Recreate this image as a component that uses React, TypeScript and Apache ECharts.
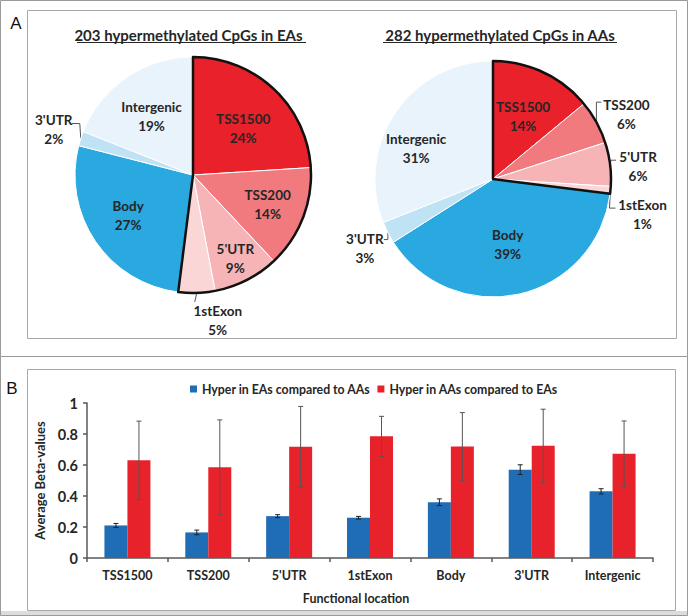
import React, { useEffect, useRef } from "react";
import * as echarts from "echarts";

// ---------- Data ----------
const sliceNames = ["TSS1500", "TSS200", "5'UTR", "1stExon", "Body", "3'UTR", "Intergenic"];
const eaPercents = [24, 14, 9, 5, 27, 2, 19]; // 203 hypermethylated CpGs in EAs
const aaPercents = [14, 6, 6, 1, 39, 3, 31]; // 282 hypermethylated CpGs in AAs
const promoterGroupSize = 4; // first four slices are outlined

const categories = ["TSS1500", "TSS200", "5'UTR", "1stExon", "Body", "3'UTR", "Intergenic"];
const eaMeans = [0.21, 0.165, 0.27, 0.26, 0.36, 0.57, 0.43];
const eaErr = [0.013, 0.015, 0.0095, 0.0085, 0.0215, 0.0315, 0.017];
const aaMeans = [0.63, 0.585, 0.718, 0.785, 0.72, 0.724, 0.673];
const aaErr = [0.253, 0.306, 0.26, 0.129, 0.218, 0.236, 0.211];

const seriesNames = ["Hyper in EAs compared to AAs", "Hyper in AAs compared to EAs"];

// ---------- Styles ----------
const FONT = "Lato, 'Noto Sans', sans-serif";
const TXT = "#262626";
const sliceColors = ["#E8212A", "#F07A7D", "#F6B4B7", "#FAD6D7", "#2AA8E0", "#BFE3F4", "#E8F3FB"];
const BLUE = "#1F6DB5";
const RED = "#E8222B";

const pie1 = { cx: 193, cy: 175, r: 118 };
const pie2 = { cx: 493, cy: 179, r: 118 };

// inner label placement: radial fraction + angular nudge (deg)
const pie1Inner: Record<number, { f: number; rot?: number }> = {
  0: { f: 0.58, rot: 4 },
  1: { f: 0.68 },
  2: { f: 0.79 },
  4: { f: 0.65, rot: 2 },
  6: { f: 0.61, rot: -1 },
};
const pie1Outer: Record<number, { line: number[][]; label: number[] }> = {
  3: { line: [[0, 0], [-1, 5], [-2, 9]], label: [23, 18.5] },
  5: { line: [[0, 0], [-1, -15], [-9, -15]], label: [-18, 5.5] },
};
const pie2Inner: Record<number, { f: number; rot?: number }> = {
  0: { f: 0.585, rot: 0.6 },
  4: { f: 0.57 },
  6: { f: 0.7, rot: -12.6 },
};
const pie2Outer: Record<number, { line: number[][]; label: number[] }> = {
  1: { line: [[0, 0], [0, -20], [5, -20]], label: [25, 12] },
  2: { line: [[0, 0], [1, -4], [6, -4]], label: [22, 6.5] },
  3: { line: [[0, 0], [-1, 18], [5, 18]], label: [27, 6.5] },
  5: { line: [[0, 0], [0, 7], [-4, 7]], label: [-19, 8.5] },
};

function makeLabelLayout(values: number[], geo: { cx: number; cy: number; r: number }, inner: any, outer: any) {
  const total = values.reduce((a, b) => a + b, 0);
  const mids: number[] = [];
  let acc = 0;
  values.forEach((v) => {
    mids.push(((acc + v / 2) / total) * 360);
    acc += v;
  });
  return (params: any) => {
    const i = params.dataIndex;
    const th = (mids[i] * Math.PI) / 180;
    if (outer[i]) {
      const o = outer[i];
      const ex = geo.cx + geo.r * Math.sin(th);
      const ey = geo.cy - geo.r * Math.cos(th);
      const pts = o.line.map((p: number[]) => [ex + p[0], ey + p[1]]);
      const last = pts[pts.length - 1];
      return {
        x: last[0] + o.label[0],
        y: last[1] + o.label[1],
        align: "center",
        verticalAlign: "middle",
        labelLinePoints: pts,
      };
    }
    const f = inner[i] || { f: 0.6 };
    const t2 = th + ((f.rot || 0) * Math.PI) / 180;
    return {
      x: geo.cx + f.f * geo.r * Math.sin(t2),
      y: geo.cy - f.f * geo.r * Math.cos(t2),
      align: "center",
      verticalAlign: "middle",
    };
  };
}

function pieSeries(values: number[], geo: { cx: number; cy: number; r: number }, inner: any, outer: any) {
  return {
    type: "pie",
    center: [geo.cx, geo.cy],
    radius: geo.r,
    startAngle: 90,
    clockwise: true,
    avoidLabelOverlap: false,
    silent: true,
    itemStyle: { borderColor: "#ffffff", borderWidth: 1 },
    label: {
      show: true,
      position: "inside",
      formatter: (p: any) => `${p.name}\n${p.value}%`,
      fontFamily: FONT,
      fontWeight: "bold",
      fontSize: 13.5,
      lineHeight: 19,
      color: TXT,
      align: "center",
    },
    labelLine: { show: false },
    labelLayout: makeLabelLayout(values, geo, inner, outer),
    data: values.map((v, i) => {
      const item: any = { name: sliceNames[i], value: v, itemStyle: { color: sliceColors[i] } };
      if (outer[i]) {
        item.label = { position: "outside" };
        item.labelLine = { show: true, length: 5, length2: 5, lineStyle: { color: "#555", width: 1 } };
      }
      return item;
    }),
  };
}

function outlineSeries(values: number[], geo: { cx: number; cy: number; r: number }) {
  const grp = values.slice(0, promoterGroupSize).reduce((a, b) => a + b, 0);
  const rest = values.slice(promoterGroupSize).reduce((a, b) => a + b, 0);
  return {
    type: "pie",
    center: [geo.cx, geo.cy],
    radius: geo.r,
    startAngle: 90,
    clockwise: true,
    silent: true,
    z: 5,
    label: { show: false },
    labelLine: { show: false },
    data: [
      { value: grp, itemStyle: { color: "rgba(0,0,0,0)", borderColor: "#111", borderWidth: 2.5 } },
      { value: rest, itemStyle: { color: "rgba(0,0,0,0)", borderWidth: 0 } },
    ],
  };
}

function errorSeries(means: number[], errs: number[], offset: number, color: string, cap: number) {
  return {
    type: "custom",
    xAxisIndex: 0,
    yAxisIndex: 0,
    z: 10,
    silent: true,
    data: means.map((m, i) => [i, m - errs[i], m + errs[i]]),
    renderItem: (_params: any, api: any) => {
      const lo = api.coord([api.value(0), api.value(1)]);
      const hi = api.coord([api.value(0), api.value(2)]);
      const x = lo[0] + offset;
      const style = { stroke: color, lineWidth: 1 };
      return {
        type: "group",
        children: [
          { type: "line", shape: { x1: x, y1: hi[1], x2: x, y2: lo[1] }, style },
          { type: "line", shape: { x1: x - cap, y1: hi[1], x2: x + cap, y2: hi[1] }, style },
          { type: "line", shape: { x1: x - cap, y1: lo[1], x2: x + cap, y2: lo[1] }, style },
        ],
      };
    },
  };
}

export default function App() {
  const ref = useRef<HTMLDivElement>(null);
  useEffect(() => {
    if (!ref.current) return;
    const chart = echarts.init(ref.current, undefined, { renderer: "svg" });
    const option: any = {
      animation: false,
      backgroundColor: "#ffffff",
      graphic: [
        // panel frames
        { type: "rect", shape: { x: 0.5, y: 0.5, width: 687, height: 356 }, style: { fill: "none", stroke: "#9a9a9a", lineWidth: 1 }, z: -10 },
        { type: "rect", shape: { x: 0.5, y: 356.5, width: 687, height: 259 }, style: { fill: "none", stroke: "#9a9a9a", lineWidth: 1 }, z: -10 },
        { type: "rect", shape: { x: 27.5, y: 10.5, width: 649, height: 328 }, style: { fill: "none", stroke: "#a8a8a8", lineWidth: 1 }, z: -10 },
        { type: "rect", shape: { x: 27.5, y: 369.5, width: 648, height: 241 }, style: { fill: "none", stroke: "#a8a8a8", lineWidth: 1 }, z: -10 },
        { type: "rect", shape: { x: 0, y: 611, width: 688, height: 5 }, style: { fill: "#dcdcdc" }, z: -11 },
        // panel letters
        { type: "text", x: 16, y: 23, style: { text: "A", font: "17px 'Liberation Sans', Arial, sans-serif", fill: "#111", align: "center", verticalAlign: "middle", textAlign: "center", textVerticalAlign: "middle" } },
        { type: "text", x: 12, y: 388, style: { text: "B", font: "17px 'Liberation Sans', Arial, sans-serif", fill: "#111", align: "center", verticalAlign: "middle", textAlign: "center", textVerticalAlign: "middle" } },
        // pie titles
        { type: "text", x: 188.5, y: 35, style: { text: "203 hypermethylated CpGs in EAs", font: `bold 15px ${FONT}`, fill: TXT, align: "center", verticalAlign: "middle", textAlign: "center", textVerticalAlign: "middle" } },
        { type: "line", shape: { x1: 77, y1: 42.5, x2: 306, y2: 42.5 }, style: { stroke: TXT, lineWidth: 1.2 } },
        { type: "text", x: 500, y: 35, style: { text: "282 hypermethylated CpGs in AAs", font: `bold 15px ${FONT}`, fill: TXT, align: "center", verticalAlign: "middle", textAlign: "center", textVerticalAlign: "middle" } },
        { type: "line", shape: { x1: 383, y1: 42.5, x2: 617, y2: 42.5 }, style: { stroke: TXT, lineWidth: 1.2 } },
      ],
      legend: {
        data: seriesNames,
        left: 190,
        top: 383,
        padding: 0,
        icon: "rect",
        itemWidth: 7,
        itemHeight: 7,
        itemGap: 7,
        textStyle: { fontFamily: FONT, fontWeight: "bold", fontSize: 12.3, color: TXT },
      },
      grid: { left: 87, right: 35, top: 403, bottom: 58 },
      xAxis: {
        type: "category",
        data: categories,
        name: "Functional location",
        nameLocation: "middle",
        nameGap: 34,
        nameTextStyle: { fontFamily: FONT, fontWeight: "bold", fontSize: 12.5, color: TXT, padding: [0, 28, 0, 0] },
        axisLine: { lineStyle: { color: "#595959", width: 1.5 } },
        axisTick: { show: true, length: 4, lineStyle: { color: "#595959", width: 1.5 } },
        axisLabel: { fontFamily: FONT, fontWeight: "bold", fontSize: 12.5, color: TXT, margin: 11 },
      },
      yAxis: {
        type: "value",
        min: 0,
        max: 1,
        interval: 0.2,
        name: "Average Beta-values",
        nameLocation: "middle",
        nameGap: 38,
        nameTextStyle: { fontFamily: FONT, fontWeight: "bold", fontSize: 13, color: TXT },
        axisLine: { show: true, lineStyle: { color: "#595959", width: 1.5 } },
        axisTick: { show: true, length: 4, lineStyle: { color: "#595959", width: 1.5 } },
        splitLine: { show: false },
        axisLabel: { fontFamily: FONT, fontWeight: "bold", fontSize: 14.5, color: TXT, margin: 9 },
      },
      series: [
        pieSeries(eaPercents, pie1, pie1Inner, pie1Outer),
        outlineSeries(eaPercents, pie1),
        pieSeries(aaPercents, pie2, pie2Inner, pie2Outer),
        outlineSeries(aaPercents, pie2),
        {
          name: seriesNames[0],
          type: "bar",
          data: eaMeans,
          barWidth: 23,
          barGap: "0%",
          itemStyle: { color: BLUE },
          silent: true,
        },
        {
          name: seriesNames[1],
          type: "bar",
          data: aaMeans,
          barWidth: 23,
          barGap: "0%",
          itemStyle: { color: RED },
          silent: true,
        },
        errorSeries(eaMeans, eaErr, -11.5, "#222", 2.5),
        errorSeries(aaMeans, aaErr, 11.5, "#555", 2.5),
      ],
    };
    chart.setOption(option);
    return () => chart.dispose();
  }, []);
  return (
    <div
      ref={ref}
      style={{ position: "absolute", left: 0, top: 0, width: 688, height: 616, background: "#fff" }}
    />
  );
}
